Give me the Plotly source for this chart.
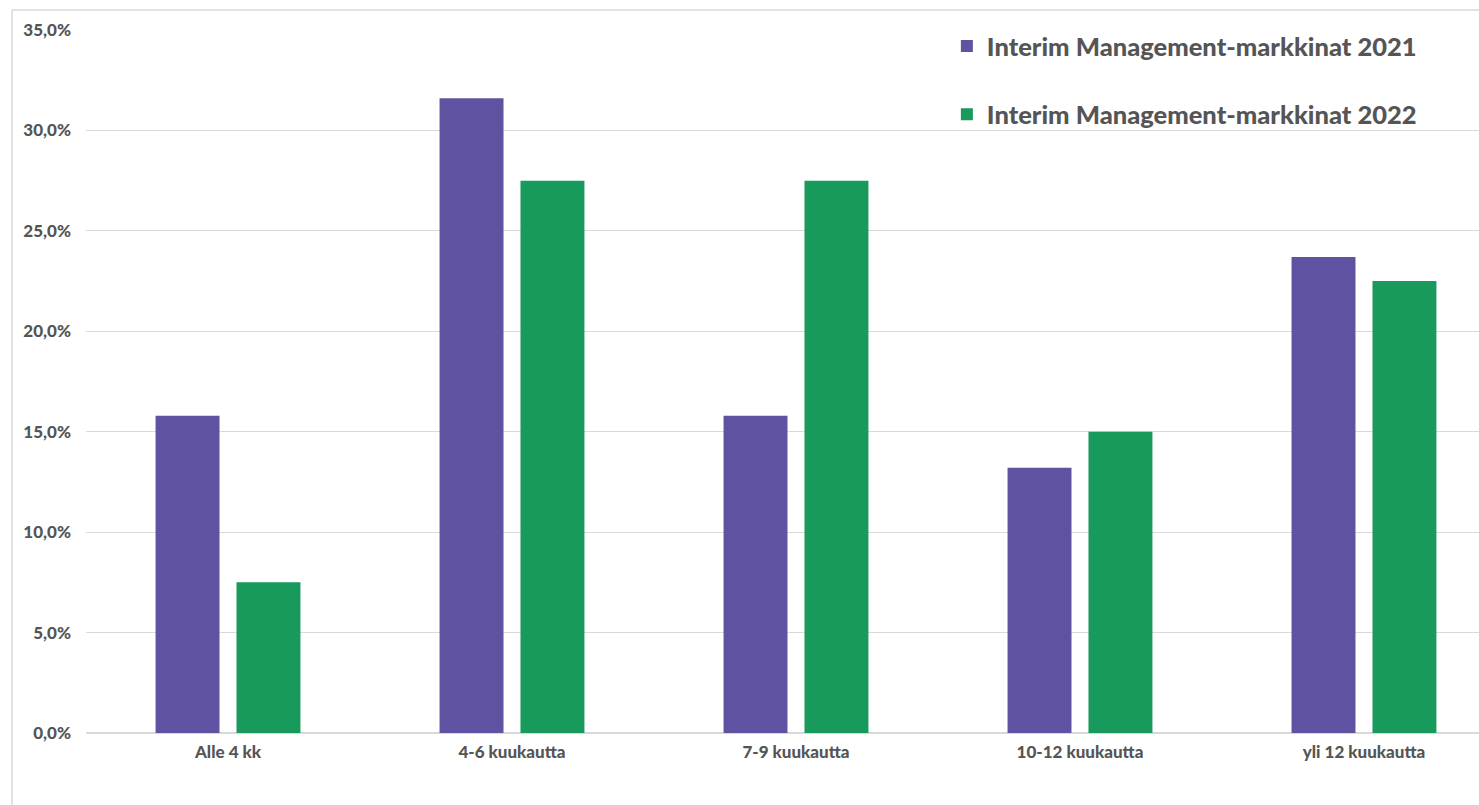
import plotly.graph_objects as go

categories = ["Alle 4 kk", "4-6 kuukautta", "7-9 kuukautta", "10-12 kuukautta", "yli 12 kuukautta"]
values_2021 = [15.8, 31.6, 15.8, 13.2, 23.7]
values_2022 = [7.5, 27.5, 27.5, 15.0, 22.5]
series_names = ["Interim Management-markkinat 2021", "Interim Management-markkinat 2022"]
y_ticks = [0, 5, 10, 15, 20, 25, 30, 35]
y_tick_labels = ["0,0%", "5,0%", "10,0%", "15,0%", "20,0%", "25,0%", "30,0%", "35,0%"]

FONT = "Lato"
TXT = "#555555"
FRAME = dict(color="#d9d9d9", width=1.5)

fig = go.Figure()
fig.add_trace(go.Bar(x=categories, y=values_2021, name=series_names[0],
                     marker=dict(color="#5f52a0", line=dict(width=0)), legendgroup="a"))
fig.add_trace(go.Bar(x=categories, y=values_2022, name=series_names[1],
                     marker=dict(color="#179a5b", line=dict(width=0)), legendgroup="b"))

fig.update_layout(
    width=1479, height=805,
    margin=dict(l=86, r=0, t=30, b=72),
    paper_bgcolor="white", plot_bgcolor="white",
    barmode="group", bargap=0.43, bargroupgap=0.21,
    font=dict(family=FONT, color=TXT),
    legend=dict(x=0.618, y=1.01, xanchor="left", yanchor="top",
                font=dict(size=25.5, family=FONT, color=TXT, weight=900),
                tracegroupgap=32, itemwidth=30, bgcolor="rgba(0,0,0,0)"),
    xaxis=dict(range=[-0.5, 4.405], showgrid=False, showline=False, ticks="",
               tickfont=dict(size=17, family=FONT, color=TXT, weight=900),
               ticklabelstandoff=7),
    yaxis=dict(range=[0, 35], tickvals=y_ticks, ticktext=y_tick_labels,
               showgrid=True, gridcolor="#d9d9d9", gridwidth=1,
               zeroline=True, zerolinecolor="#d9d9d9", zerolinewidth=1.5,
               ticks="", ticklabelstandoff=14,
               tickfont=dict(size=17, family=FONT, color=TXT, weight=900)),
    shapes=[
        dict(type="line", xref="paper", yref="paper",
             x0=-0.0531, x1=-0.0531, y0=-0.2, y1=1.0285, line=FRAME, layer="below"),
        dict(type="line", xref="paper", yref="paper",
             x0=-0.0531, x1=1.1, y0=1.0285, y1=1.0285, line=FRAME, layer="below"),
    ],
)

fig.write_html("out.html")
